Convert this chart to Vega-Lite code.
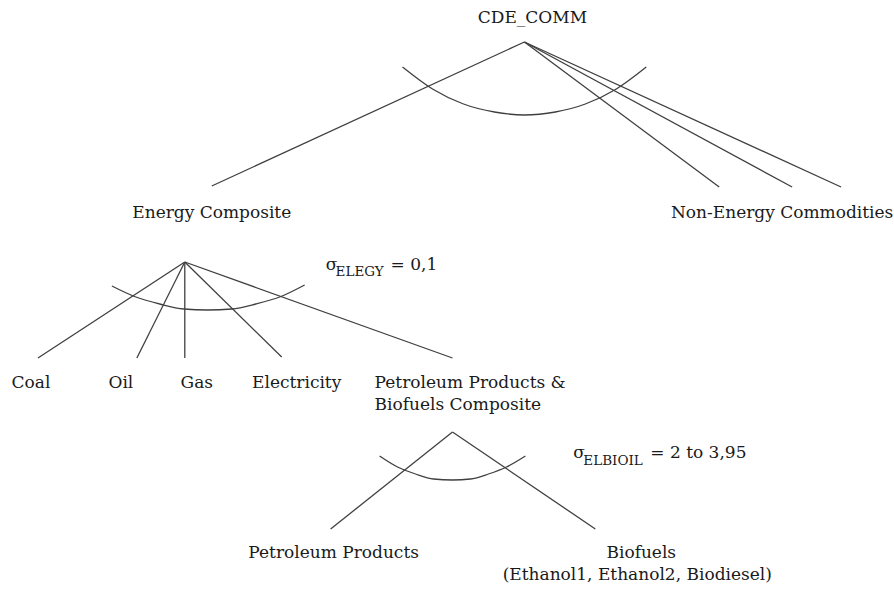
{
  "$schema": "https://vega.github.io/schema/vega-lite/v6.json",
  "width": 894,
  "height": 592,
  "padding": 0,
  "autosize": {"type": "fit", "contains": "padding"},
  "background": "white",
  "config": {"view": {"stroke": null}},
  "datasets": {
    "edges": [
      {"x": 525, "y": 42, "x2": 212, "y2": 186},
      {"x": 525, "y": 42, "x2": 720, "y2": 187},
      {"x": 525, "y": 42, "x2": 793, "y2": 187},
      {"x": 525, "y": 42, "x2": 842, "y2": 187},
      {"x": 185, "y": 262, "x2": 38, "y2": 358},
      {"x": 185, "y": 262, "x2": 137, "y2": 358},
      {"x": 185, "y": 262, "x2": 185, "y2": 358},
      {"x": 185, "y": 262, "x2": 282, "y2": 357},
      {"x": 185, "y": 262, "x2": 453, "y2": 358},
      {"x": 453, "y": 432, "x2": 331, "y2": 529},
      {"x": 453, "y": 432, "x2": 596, "y2": 529}
    ],
    "arcs": [
      {"arc": "a1", "i": 0, "x": 403, "y": 67},
      {"arc": "a1", "i": 1, "x": 433, "y": 89},
      {"arc": "a1", "i": 2, "x": 464, "y": 104},
      {"arc": "a1", "i": 3, "x": 495, "y": 112},
      {"arc": "a1", "i": 4, "x": 525, "y": 115},
      {"arc": "a1", "i": 5, "x": 556, "y": 112},
      {"arc": "a1", "i": 6, "x": 586, "y": 104},
      {"arc": "a1", "i": 7, "x": 617, "y": 89},
      {"arc": "a1", "i": 8, "x": 647, "y": 67},
      {"arc": "a2", "i": 0, "x": 112, "y": 286},
      {"arc": "a2", "i": 1, "x": 136, "y": 297},
      {"arc": "a2", "i": 2, "x": 160, "y": 304},
      {"arc": "a2", "i": 3, "x": 184, "y": 309},
      {"arc": "a2", "i": 4, "x": 208, "y": 310},
      {"arc": "a2", "i": 5, "x": 232, "y": 309},
      {"arc": "a2", "i": 6, "x": 256, "y": 304},
      {"arc": "a2", "i": 7, "x": 280, "y": 297},
      {"arc": "a2", "i": 8, "x": 305, "y": 285},
      {"arc": "a3", "i": 0, "x": 380, "y": 456},
      {"arc": "a3", "i": 1, "x": 398, "y": 467},
      {"arc": "a3", "i": 2, "x": 416, "y": 474},
      {"arc": "a3", "i": 3, "x": 434, "y": 479},
      {"arc": "a3", "i": 4, "x": 453, "y": 480},
      {"arc": "a3", "i": 5, "x": 471, "y": 479},
      {"arc": "a3", "i": 6, "x": 489, "y": 474},
      {"arc": "a3", "i": 7, "x": 507, "y": 467},
      {"arc": "a3", "i": 8, "x": 526, "y": 456}
    ],
    "labels": [
      {"x": 533, "y": 23, "text": "CDE_COMM"},
      {"x": 212, "y": 218, "text": "Energy Composite"},
      {"x": 783, "y": 218, "text": "Non-Energy Commodities"},
      {"x": 31, "y": 388, "text": "Coal"},
      {"x": 121, "y": 388, "text": "Oil"},
      {"x": 197, "y": 388, "text": "Gas"},
      {"x": 297, "y": 388, "text": "Electricity"},
      {"x": 334, "y": 558, "text": "Petroleum Products"},
      {"x": 642, "y": 558, "text": "Biofuels"},
      {"x": 638, "y": 580, "text": "(Ethanol1, Ethanol2, Biodiesel)"}
    ],
    "leftlabels": [
      {"x": 375, "y": 388, "text": "Petroleum Products &"},
      {"x": 375, "y": 410, "text": "Biofuels Composite"},
      {"x": 326, "y": 270, "text": "σ"},
      {"x": 391, "y": 270, "text": "= 0,1"},
      {"x": 574, "y": 458, "text": "σ"},
      {"x": 651, "y": 458, "text": "= 2 to 3,95"}
    ],
    "subs": [
      {"x": 336, "y": 276, "text": "ELEGY"},
      {"x": 584, "y": 465, "text": "ELBIOIL"}
    ]
  },
  "layer": [
    {
      "data": {"name": "edges"},
      "mark": {"type": "rule", "color": "#404040", "strokeWidth": 1.3},
      "encoding": {
        "x": {"field": "x", "type": "quantitative", "scale": {"domain": [0, 894], "nice": false, "zero": false}, "axis": null},
        "y": {"field": "y", "type": "quantitative", "scale": {"domain": [0, 592], "nice": false, "zero": false, "reverse": true}, "axis": null},
        "x2": {"field": "x2"},
        "y2": {"field": "y2"}
      }
    },
    {
      "data": {"name": "arcs"},
      "mark": {"type": "line", "color": "#404040", "strokeWidth": 1.3, "interpolate": "monotone"},
      "encoding": {
        "x": {"field": "x", "type": "quantitative", "scale": {"domain": [0, 894], "nice": false, "zero": false}, "axis": null},
        "y": {"field": "y", "type": "quantitative", "scale": {"domain": [0, 592], "nice": false, "zero": false, "reverse": true}, "axis": null},
        "detail": {"field": "arc", "type": "nominal"},
        "order": {"field": "i", "type": "quantitative"}
      }
    },
    {
      "data": {"name": "labels"},
      "mark": {"type": "text", "font": "DejaVu Serif", "fontSize": 17, "color": "#1a1a1a", "align": "center", "baseline": "alphabetic"},
      "encoding": {
        "x": {"field": "x", "type": "quantitative", "scale": {"domain": [0, 894], "nice": false, "zero": false}, "axis": null},
        "y": {"field": "y", "type": "quantitative", "scale": {"domain": [0, 592], "nice": false, "zero": false, "reverse": true}, "axis": null},
        "text": {"field": "text", "type": "nominal"}
      }
    },
    {
      "data": {"name": "leftlabels"},
      "mark": {"type": "text", "font": "DejaVu Serif", "fontSize": 17, "color": "#1a1a1a", "align": "left", "baseline": "alphabetic"},
      "encoding": {
        "x": {"field": "x", "type": "quantitative", "scale": {"domain": [0, 894], "nice": false, "zero": false}, "axis": null},
        "y": {"field": "y", "type": "quantitative", "scale": {"domain": [0, 592], "nice": false, "zero": false, "reverse": true}, "axis": null},
        "text": {"field": "text", "type": "nominal"}
      }
    },
    {
      "data": {"name": "subs"},
      "mark": {"type": "text", "font": "DejaVu Serif", "fontSize": 13.5, "color": "#1a1a1a", "align": "left", "baseline": "alphabetic"},
      "encoding": {
        "x": {"field": "x", "type": "quantitative", "scale": {"domain": [0, 894], "nice": false, "zero": false}, "axis": null},
        "y": {"field": "y", "type": "quantitative", "scale": {"domain": [0, 592], "nice": false, "zero": false, "reverse": true}, "axis": null},
        "text": {"field": "text", "type": "nominal"}
      }
    }
  ]
}
